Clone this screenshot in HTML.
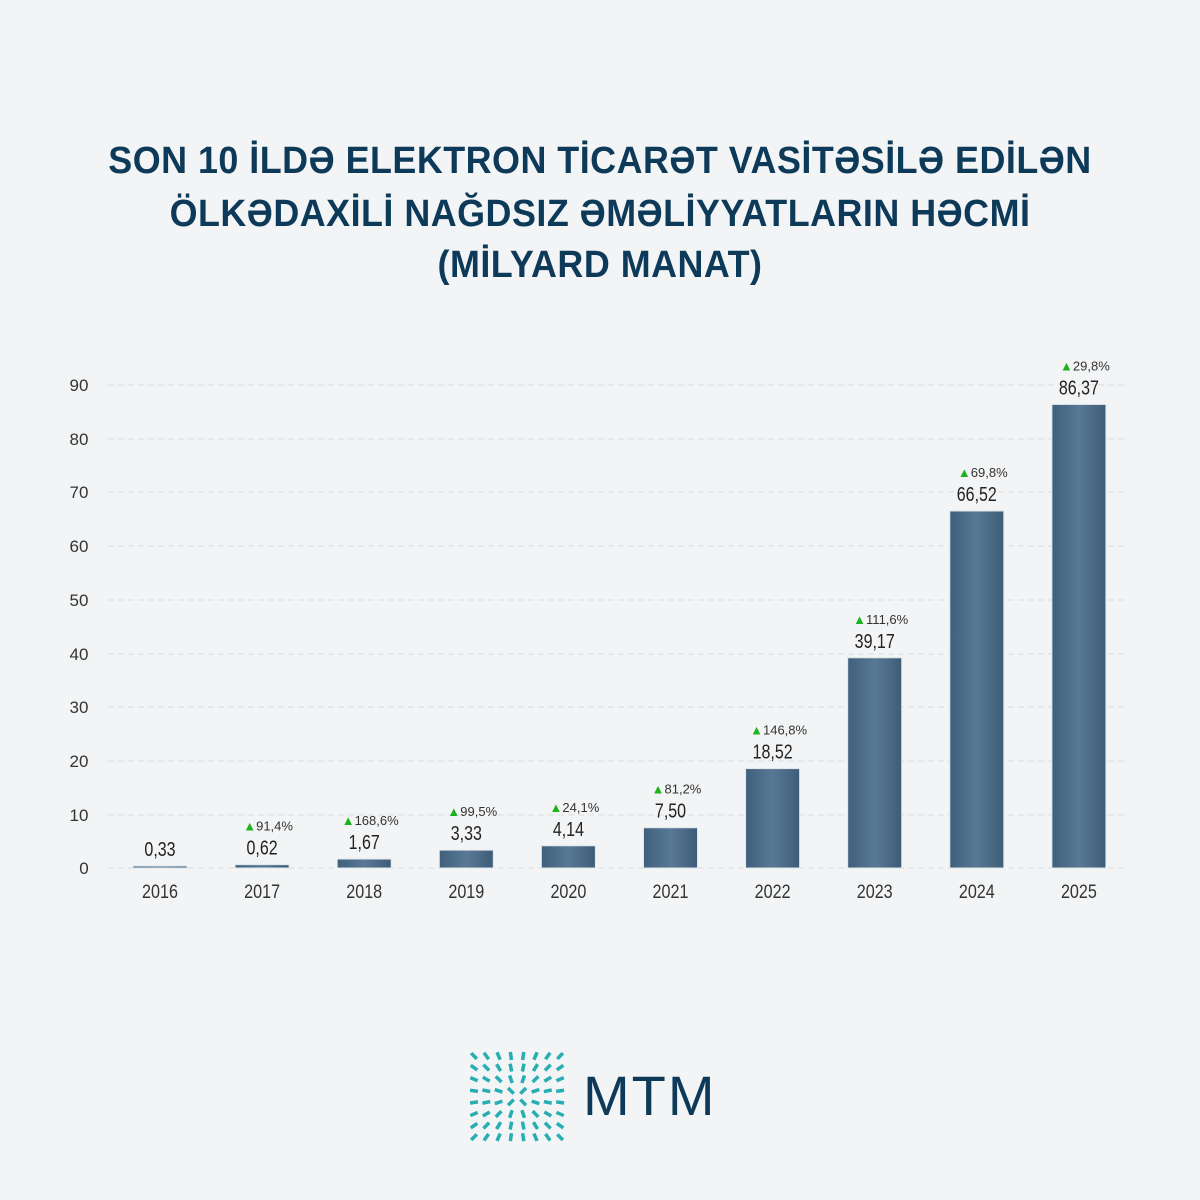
<!DOCTYPE html>
<html><head><meta charset="utf-8"><style>
html,body{margin:0;padding:0}
body{width:1200px;height:1200px;background:#f3f4f5;position:relative;overflow:hidden;font-family:"Liberation Sans",sans-serif}
.t{position:absolute;left:0;width:1200px;text-align:center;color:#0e3a59;font-weight:bold;font-size:38px;letter-spacing:0.5px;transform:scaleX(0.945);transform-origin:600px 0}
</style></head><body>
<div class="t" style="top:140px">SON 10 İLDƏ ELEKTRON TİCARƏT VASİTƏSİLƏ EDİLƏN</div>
<div class="t" style="top:193px">ÖLKƏDAXİLİ NAĞDSIZ ƏMƏLİYYATLARIN HƏCMİ</div>
<div class="t" style="top:244px">(MİLYARD MANAT)</div>
<svg width="1200" height="1200" style="position:absolute;left:0;top:0">
<defs><linearGradient id="g" x1="0" x2="1"><stop offset="0" stop-color="#3f5f7c"/><stop offset="0.5" stop-color="#587996"/><stop offset="1" stop-color="#3d5c78"/></linearGradient></defs>
<g stroke="#d8dcdf" stroke-dasharray="6,4" stroke-width="1">
<line x1="108" x2="1125" y1="385" y2="385"/><line x1="108" x2="1125" y1="439" y2="439"/><line x1="108" x2="1125" y1="492" y2="492"/><line x1="108" x2="1125" y1="546" y2="546"/><line x1="108" x2="1125" y1="600" y2="600"/><line x1="108" x2="1125" y1="654" y2="654"/><line x1="108" x2="1125" y1="707" y2="707"/><line x1="108" x2="1125" y1="761" y2="761"/><line x1="108" x2="1125" y1="815" y2="815"/><line x1="108" x2="1125" y1="868" y2="868"/>
</g>
<g font-size="17" fill="#333" text-anchor="middle">
<text x="79" y="391">90</text><text x="79" y="445">80</text><text x="79" y="498">70</text><text x="79" y="552">60</text><text x="79" y="606">50</text><text x="79" y="660">40</text><text x="79" y="713">30</text><text x="79" y="767">20</text><text x="79" y="821">10</text><text x="84" y="874">0</text>
</g>
<g id="bars"></g>
</svg>
<script>
var d=[[2016,0.33,"0,33",""],[2017,0.62,"0,62","91,4%"],[2018,1.67,"1,67","168,6%"],[2019,3.33,"3,33","99,5%"],[2020,4.14,"4,14","24,1%"],[2021,7.5,"7,50","81,2%"],[2022,18.52,"18,52","146,8%"],[2023,39.17,"39,17","111,6%"],[2024,66.52,"66,52","69,8%"],[2025,86.37,"86,37","29,8%"]];
var s="";
d.forEach(function(r,i){var cx=160+i*102.1,h=Math.max(2,r[1]*5.367),top=868-h;
s+='<rect x="'+(cx-27)+'" y="'+top+'" width="54" height="'+h+'" fill="url(#g)" stroke="#e0e6ea" stroke-width="1"/>';
s+='<text transform="translate('+cx+','+(top-10)+') scale(0.8,1)" font-size="20" fill="#222" text-anchor="middle">'+r[2]+'</text>';
if(r[3])s+='<text x="'+(cx+6)+'" y="'+(top-34)+'" font-size="13" fill="#333" text-anchor="middle"><tspan fill="#1db31d">▲</tspan>'+r[3]+'</text>';
s+='<text transform="translate('+cx+',898) scale(0.85,1)" font-size="19" fill="#333" text-anchor="middle">'+r[0]+'</text>';});
var lg="";for(var a=0;a<8;a++)for(var b=0;b<8;b++){var x=474+a*12.3,y=1056+b*11.6,dx=(a-3.5),dy=(b-3.5),L=Math.sqrt(dx*dx+dy*dy)||1;lg+='<line x1="'+(x-dx/L*4)+'" y1="'+(y-dy/L*4)+'" x2="'+(x+dx/L*4)+'" y2="'+(y+dy/L*4)+'" stroke="#27aeb3" stroke-width="3.5"/>';}
s+=lg+'<text x="583" y="1115" font-size="56" fill="#0e3a59" letter-spacing="2">MTM</text>';
document.getElementById("bars").innerHTML=s;
</script>
</body></html>
